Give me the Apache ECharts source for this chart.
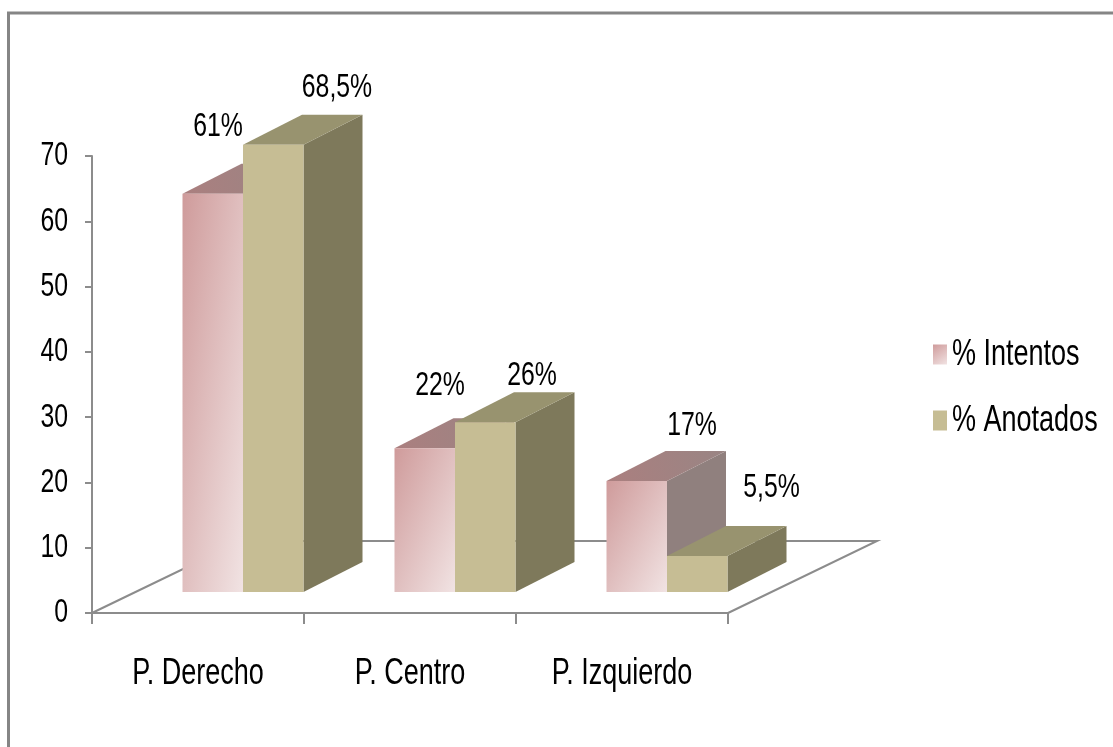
<!DOCTYPE html>
<html>
<head>
<meta charset="utf-8">
<style>html,body{margin:0;padding:0;background:#fff}#c{width:1113px;height:747px}</style>
<script src="https://cdn.jsdelivr.net/npm/echarts@6/dist/echarts.min.js"></script>
</head>
<body>
<div id="c"></div>
<script>
const categories = ['P. Derecho', 'P. Centro', 'P. Izquierdo'];
const intentos = [61, 22, 17];
const anotados = [68.5, 26, 5.5];
const intentosLabels = ['61%', '22%', '17%'];
const anotadosLabels = ['68,5%', '26%', '5,5%'];
const yRange = [0, 70];

const FONT = '"Liberation Sans",Arial,sans-serif';
const GREY = '#8c8c8c';
const TEXT_SQUEEZE = 0.73;
const FLOOR = { dx: 149, dy: 72 };
const BAR = { width: 60.5, shift: 45, rise: 21, dx: 59, dy: 30 };

function pinkGradient(w, h) {
  const n = w * w + h * h;
  return new echarts.graphic.LinearGradient(0, 0, 2 * h * h / n, 2 * w * w / n, [
    { offset: 0, color: '#cf9b9b' }, { offset: 1, color: '#f1e3e3' }]);
}
const pinkTop = new echarts.graphic.LinearGradient(0, 1, 1, 0, [
  { offset: 0, color: '#ab7f7f' }, { offset: 1, color: '#998584' }]);
const styles = [
  { front: pinkGradient, legend: pinkGradient(1, 1), top: pinkTop, side: '#90807e' },
  { front: () => '#c6bd94', legend: '#c6bd94', top: '#98936f', side: '#7e795b' }
];
const labelOffsets = [
  [[-25, -37.5], [-15, -32.5], [25, -25.5]],
  [[33.5, -27.5], [16.5, -16.5], [44, -38.5]]
];

function barSeries(name, idx, values, labels) {
  return {
    name, type: 'custom', coordinateSystem: 'cartesian2d',
    itemStyle: { color: styles[idx].legend },
    data: values.map((v, i) => [i, v, labels[i]]),
    encode: { x: 0, y: 1 },
    renderItem(params, api) {
      const cat = api.value(0), val = api.value(1);
      const base = api.coord([cat, 0]), top = api.coord([cat, val]);
      const x0 = base[0] + BAR.shift + (idx - 1) * BAR.width;
      const x1 = x0 + BAR.width;
      const yb = base[1] - BAR.rise, yt = top[1] - BAR.rise;
      const d = BAR.dx, h = BAR.dy, s = styles[idx];
      const off = labelOffsets[idx][params.dataIndex];
      return {
        type: 'group',
        children: [
          { type: 'polygon', shape: { points: [[x1, yt], [x1 + d, yt - h], [x1 + d, yb - h], [x1, yb]] }, style: { fill: s.side } },
          { type: 'polygon', shape: { points: [[x0, yt], [x0 + d, yt - h], [x1 + d, yt - h], [x1, yt]] }, style: { fill: s.top } },
          { type: 'rect', shape: { x: x0, y: yt, width: BAR.width, height: yb - yt }, style: { fill: s.front(BAR.width, yb - yt) } },
          { type: 'text', x: x1 + off[0], y: yt - h + off[1], style: {
              text: api.value(2), x: 0, y: 0,
              fill: '#000', font: '34px ' + FONT, align: 'center', verticalAlign: 'middle' } }
        ]
      };
    }
  };
}

const floorSeries = {
  type: 'custom', coordinateSystem: 'cartesian2d', silent: true, z: 1,
  data: [[0, 0]], encode: { x: 0, y: 1 },
  renderItem(params) {
    const g = params.coordSys;
    const bl = [g.x, g.y + g.height], br = [g.x + g.width, g.y + g.height];
    return {
      type: 'polyline',
      shape: { points: [bl, [bl[0] + FLOOR.dx, bl[1] - FLOOR.dy], [br[0] + FLOOR.dx, br[1] - FLOOR.dy], br] },
      style: { stroke: GREY, lineWidth: 2, fill: 'none' }
    };
  }
};

const chart = echarts.init(document.getElementById('c'), null, { renderer: 'canvas' });
chart.setOption({
  animation: false,
  backgroundColor: '#fff',
  grid: { left: 92, right: 385, top: 156, bottom: 134 },
  graphic: [{
    type: 'polyline', silent: true,
    shape: { points: [[8.5, 747], [8.5, 13], [1113, 13]] },
    style: { stroke: '#858585', lineWidth: 3, fill: 'none' }
  }],
  legend: {
    data: ['% Intentos', '% Anotados'],
    orient: 'vertical', left: 928, top: 331,
    itemWidth: 14, itemHeight: 20, itemGap: 29,
    icon: 'rect', selectedMode: false,
    textStyle: { fontFamily: FONT, fontSize: 37, color: '#000', padding: [0, 0, 0, 7] }
  },
  xAxis: {
    type: 'category', data: categories,
    axisLine: { lineStyle: { color: GREY, width: 2 } },
    axisTick: { show: true, length: 11, alignWithLabel: false, lineStyle: { color: GREY, width: 2 } },
    axisLabel: { fontFamily: FONT, fontSize: 37, color: '#000', margin: 42, interval: 0, hideOverlap: false }
  },
  yAxis: {
    type: 'value', min: yRange[0], max: yRange[1], interval: 10,
    splitLine: { show: false },
    axisLine: { show: true, lineStyle: { color: GREY, width: 2 } },
    axisTick: { show: true, length: 7, lineStyle: { color: GREY, width: 2 } },
    axisLabel: { fontFamily: FONT, fontSize: 34, color: '#000', margin: 24 }
  },
  series: [floorSeries, barSeries('% Intentos', 0, intentos, intentosLabels), barSeries('% Anotados', 1, anotados, anotadosLabels)]
});

// The reference text is horizontally compressed and no narrow font is installed,
// so every label is squeezed about its own anchor.
function squeezeText() {
  const zr = chart.getZr();
  const seen = new Set();
  zr.storage.getDisplayList(true).forEach(el => {
    const owner = el.parent;
    if (el.style && el.style.text != null && owner && !seen.has(owner)) {
      seen.add(owner);
      owner.scaleX = TEXT_SQUEEZE;
      owner.originX = 0;
      owner.markRedraw && owner.markRedraw();
    }
  });
  zr.refresh();
}
squeezeText();
</script>
</body>
</html>
